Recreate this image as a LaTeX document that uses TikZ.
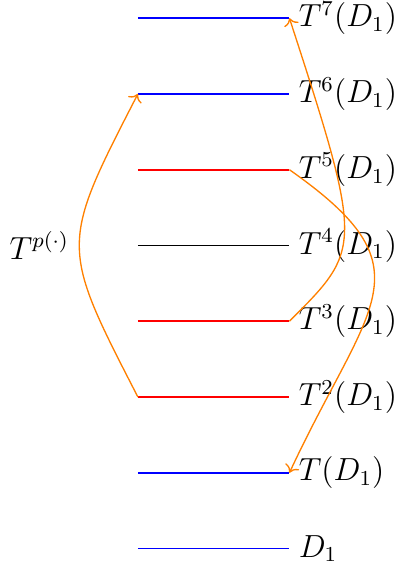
\documentclass[tikz,border=0pt]{standalone}
\usepackage{tikz}
\usetikzlibrary{arrows.meta}
\tikzset{
  lvl/.style={line width=0.6pt},
  lbl/.style={anchor=west, inner sep=3.3pt, font=\fontsize{12}{14}\selectfont},
  jump/.style={->, draw=orange, line width=0.5pt},
}

\begin{document}
\begin{tikzpicture}
  \useasboundingbox (-1.82,-0.27) rectangle (3.45,7.24);
  % iterates of D_1
  \foreach \i/\c/\t in {0/blue/{D_1}, 1/blue/{T(D_1)}, 2/red/{T^2(D_1)},
      3/red/{T^3(D_1)}, 4/black/{T^4(D_1)}, 5/red/{T^5(D_1)},
      6/blue/{T^6(D_1)}, 7/blue/{T^7(D_1)}} {
    \coordinate (a\i) at (0,\i);
    \coordinate (b\i) at (2,\i);
    \draw[lvl, draw=\c] (a\i) -- (b\i);
    \node[lbl] (t\i) at (b\i) {$\t$};
  }
  \node[lbl, anchor=center] (tp) at (-1.3,4) {$T^{p(\cdot)}$};
  % jumps
  \draw[jump] (a2) .. controls (-1.03,4) and (-1.03,4) .. (a6);
  \draw[jump] (b5) .. controls (3.88,3.68) and (3.06,3.27) .. (b1);
  \draw[jump] (b3) .. controls (2.95,3.95) and (2.99,3.96) .. (b7);
\end{tikzpicture}
\end{document}
